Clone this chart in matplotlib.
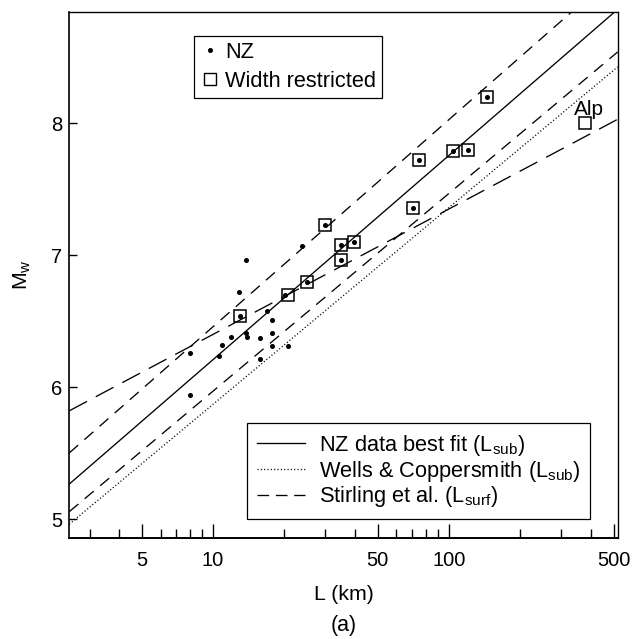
import matplotlib
matplotlib.use("Agg")
import matplotlib.pyplot as plt
from matplotlib.lines import Line2D
from matplotlib.ticker import FixedLocator, NullFormatter, FixedFormatter

plt.rcParams['font.family'] = ['Liberation Sans', 'DejaVu Sans']
plt.rcParams['lines.scale_dashes'] = False
plt.rcParams['mathtext.fontset'] = 'custom'
plt.rcParams['mathtext.rm'] = 'Liberation Sans'
plt.rcParams['mathtext.it'] = 'Liberation Sans'

# ---- data ----
nz_L = [7.96, 7.96, 10.6, 10.9, 11.9, 12.9, 12.96, 13.8, 13.8, 13.9, 15.85, 15.85,
        16.9, 17.8, 17.8, 17.8, 20.8, 20.3, 23.8, 25.0, 29.9, 35.0, 34.9, 39.8,
        70.4, 75.1, 104.6, 120.0, 144.9]
nz_M = [6.26, 5.94, 6.24, 6.32, 6.38, 6.72, 6.54, 6.96, 6.41, 6.38, 6.37, 6.21,
        6.58, 6.51, 6.41, 6.31, 6.31, 6.70, 7.07, 6.80, 7.23, 7.08, 6.96, 7.10,
        7.36, 7.72, 7.79, 7.80, 8.20]

wr_L = [12.96, 20.9, 25.0, 29.9, 35.0, 34.9, 39.8, 70.4, 75.1, 104.6, 120.0, 144.9, 378.0]
wr_M = [6.54, 6.70, 6.80, 7.23, 7.08, 6.96, 7.10, 7.36, 7.72, 7.79, 7.80, 8.20, 8.00]

alp_label = "Alp"
alp_L, alp_M = 393.0, 8.063

# regression lines: values at the two ends of the L range
line_L = [2.46, 520.0]
nzfit_M = [5.266, 8.863]
upper_M = [5.502, 9.150]
lower_M = [5.057, 8.540]
wc_M = [4.962, 8.427]
stirling_M = [5.821, 8.030]

x_major = [5, 10, 50, 100, 500]
x_major_labels = ["5", "10", "50", "100", "500"]
x_minor = [3, 4, 6, 7, 8, 9, 20, 30, 40, 60, 70, 80, 90, 200, 300, 400]
y_major = [5, 6, 7, 8]

# ---- figure ----
fig = plt.figure(figsize=(6.34, 6.39), dpi=100)
ax = fig.add_axes([0.1093, 0.1576, 0.8650, 0.8241])

lw = 0.95
long_dash = (0, (14.4, 7.2))
short_dash = (0, (8.5, 6.0))
dotted = (0, (0.8, 1.6))

ax.plot(line_L, nzfit_M, color='black', lw=lw, linestyle='-')
ax.plot(line_L, upper_M, color='black', lw=lw, linestyle=short_dash)
ax.plot(line_L, lower_M, color='black', lw=lw, linestyle=short_dash)
ax.plot(line_L, wc_M, color='black', lw=lw, linestyle=dotted)
ax.plot(line_L, stirling_M, color='black', lw=lw, linestyle=long_dash)

ax.plot(wr_L, wr_M, linestyle='none', marker='s', markersize=8.0,
        markerfacecolor='none', markeredgecolor='black', markeredgewidth=1.1)
ax.plot(nz_L, nz_M, linestyle='none', marker='o', markersize=2.6,
        color='black')

ax.text(alp_L, alp_M, alp_label, ha='center', va='baseline', fontsize=15)

ax.set_xscale('log')
ax.set_xlim(2.46, 520)
ax.set_ylim(4.855, 8.845)

ax.xaxis.set_major_locator(FixedLocator(x_major))
ax.xaxis.set_major_formatter(FixedFormatter(x_major_labels))
ax.xaxis.set_minor_locator(FixedLocator(x_minor))
ax.xaxis.set_minor_formatter(NullFormatter())
ax.yaxis.set_major_locator(FixedLocator(y_major))
ax.yaxis.set_minor_locator(FixedLocator([]))

ax.tick_params(axis='x', which='major', direction='in', length=10, width=1.0,
               labelsize=14.5, pad=9)
ax.tick_params(axis='x', which='minor', direction='in', length=6.5, width=1.0)
ax.tick_params(axis='y', which='major', direction='in', length=6, width=1.0,
               labelsize=14.5, pad=5)
for s in ax.spines.values():
    s.set_linewidth(1.0)
ax.spines['bottom'].set_linewidth(1.4)
ax.spines['left'].set_linewidth(1.2)

ax.set_xlabel("L (km)", fontsize=15.4, labelpad=11)
ax.set_ylabel(r"M$_{\mathrm{w}}$", fontsize=15.4)
ax.yaxis.set_label_coords(-0.066, 0.5)

# upper legend (markers)
h1 = [Line2D([], [], linestyle='none', marker='o', markersize=2.6, color='black'),
      Line2D([], [], linestyle='none', marker='s', markersize=8.0,
             markerfacecolor='none', markeredgecolor='black', markeredgewidth=1.0)]
leg1 = ax.legend(h1, ["NZ", "Width restricted"], loc='upper left',
                 bbox_to_anchor=(0.2265, 0.9542), borderaxespad=0, fontsize=15.7,
                 frameon=True, fancybox=False, framealpha=1, edgecolor='black',
                 handlelength=0.96, handletextpad=0.22, borderpad=0.275,
                 labelspacing=0.37)
leg1.get_frame().set_linewidth(0.9)
ax.add_artist(leg1)

# lower legend (lines)
h2 = [Line2D([], [], color='black', lw=lw, linestyle='-'),
      Line2D([], [], color='black', lw=lw, linestyle=(0, (0.8, 1.6))),
      Line2D([], [], color='black', lw=lw, linestyle=(0, (8.4, 4.8)))]
labels2 = [r"NZ data best fit (L$_{\mathrm{sub}}$)",
           r"Wells & Coppersmith (L$_{\mathrm{sub}}$)",
           r"Stirling et al. (L$_{\mathrm{surf}}$)"]
leg2 = ax.legend(h2, labels2, loc='upper left', bbox_to_anchor=(0.3246, 0.2184),
                 borderaxespad=0, fontsize=15.7, frameon=True, fancybox=False,
                 framealpha=1, edgecolor='black', handlelength=2.2,
                 handletextpad=0.64, borderpad=0.44, labelspacing=0.03)
leg2.get_frame().set_linewidth(0.9)

fig.text(343.5 / 634, 1 - 626 / 639, "(a)", ha='center', va='center', fontsize=15.5)

fig.savefig("out.png", dpi=100)
